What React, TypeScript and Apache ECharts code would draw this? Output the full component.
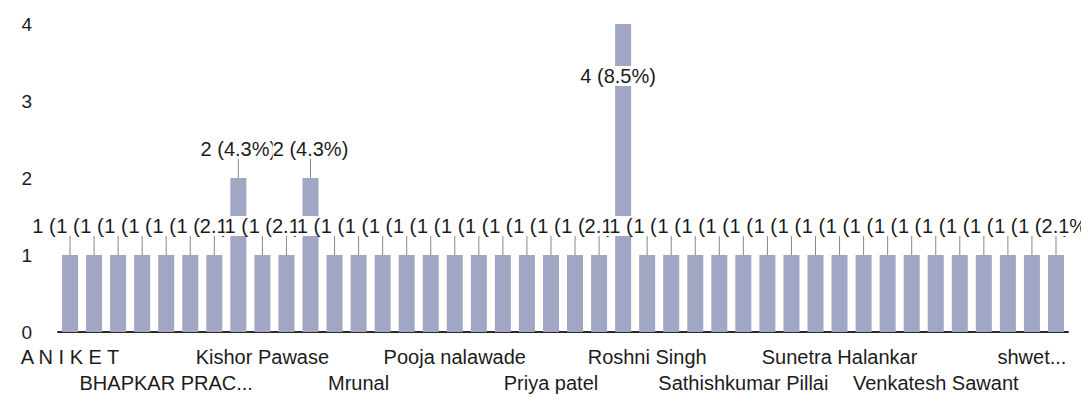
import React, { useEffect, useRef } from "react";
import * as echarts from "echarts";

const categories: string[] = [
  "A N I K E T", "Participant 2", "Participant 3", "Participant 4",
  "BHAPKAR PRAC...", "Participant 6", "Participant 7", "Participant 8",
  "Kishor Pawase", "Participant 10", "Participant 11", "Participant 12",
  "Mrunal", "Participant 14", "Participant 15", "Participant 16",
  "Pooja nalawade", "Participant 18", "Participant 19", "Participant 20",
  "Priya patel", "Participant 22", "Participant 23", "Participant 24",
  "Roshni Singh", "Participant 26", "Participant 27", "Participant 28",
  "Sathishkumar Pillai", "Participant 30", "Participant 31", "Participant 32",
  "Sunetra Halankar", "Participant 34", "Participant 35", "Participant 36",
  "Venkatesh Sawant", "Participant 38", "Participant 39", "Participant 40",
  "shwet...", "Participant 42",
];

const values: number[] = [
  1, 1, 1, 1, 1, 1, 1, 2, 1, 1,
  2, 1, 1, 1, 1, 1, 1, 1, 1, 1,
  1, 1, 1, 4, 1, 1, 1, 1, 1, 1,
  1, 1, 1, 1, 1, 1, 1, 1, 1, 1,
  1, 1,
];

const yTicks = [0, 1, 2, 3, 4];

const FONT = "'Liberation Sans', Arial, sans-serif";

export default function App() {
  const ref = useRef<HTMLDivElement>(null);
  useEffect(() => {
    if (!ref.current) return;
    const chart = echarts.init(ref.current, undefined, { renderer: "svg" });
    const total = values.reduce((a, b) => a + b, 0);
    const row1 = categories.map((c, i) => (i % 8 === 0 ? c : ""));
    const row2 = categories.map((c, i) => (i % 8 === 4 ? c : ""));
    const labelBase = {
      fontSize: 20,
      color: "#1c1c1c",
      fontFamily: FONT,
      margin: 15,
      interval: 0,
      showMinLabel: true,
      showMaxLabel: true,
    };
    chart.setOption({
      animation: false,
      textStyle: { fontFamily: FONT },
      grid: { left: 58, right: 13, top: 24, bottom: 71 },
      xAxis: [
        {
          type: "category",
          data: categories,
          axisTick: { show: false },
          axisLine: { lineStyle: { color: "#2a2a2a", width: 2 } },
          axisLabel: { show: false },
        },
        {
          type: "category",
          data: row1,
          position: "bottom",
          axisTick: { show: false },
          axisLine: { show: false },
          axisLabel: labelBase,
        },
        {
          type: "category",
          data: row2,
          position: "bottom",
          offset: 26,
          axisTick: { show: false },
          axisLine: { show: false },
          axisLabel: labelBase,
        },
      ],
      yAxis: {
        type: "value",
        min: yTicks[0],
        max: yTicks[yTicks.length - 1],
        interval: 1,
        splitLine: { show: false },
        axisLine: { show: false },
        axisTick: { show: false },
        axisLabel: { fontSize: 19, color: "#1c1c1c", margin: 26, fontFamily: FONT },
      },
      series: [
        {
          type: "bar",
          xAxisIndex: 0,
          data: values,
          barWidth: 16,
          itemStyle: { color: "#a0a6c3" },
          label: {
            show: true,
            position: "top",
            distance: 2,
            fontSize: 20,
            color: "#1c1c1c",
            fontFamily: FONT,
            backgroundColor: "#ffffff",
            formatter: (p: any) =>
              `${p.value} (${((p.value / total) * 100).toFixed(1)}%)`,
          },
          labelLine: { show: true, lineStyle: { color: "#888888", width: 1 } },
          labelLayout: (params: any) =>
            params.dataIndex === 23 ? { dx: -5, dy: 64 } : { dy: -17 },
        },
      ],
    });
    return () => chart.dispose();
  }, []);
  return (
    <div
      ref={ref}
      style={{ position: "fixed", left: 0, top: 0, width: 1081, height: 403, background: "#fff" }}
    />
  );
}
